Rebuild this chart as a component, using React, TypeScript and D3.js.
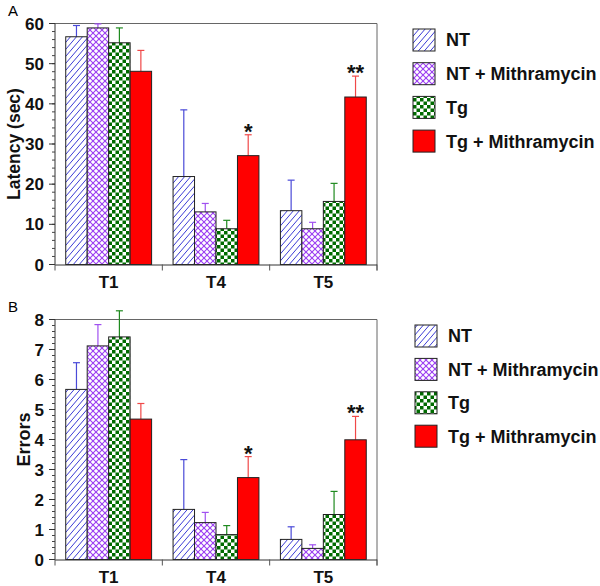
import React from "react";
import * as d3 from "d3";

const categories = ["T1", "T4", "T5"];
const seriesNames = ["NT", "NT + Mithramycin", "Tg", "Tg + Mithramycin"];

// Panel A: Latency (sec)
const latencyNT = [56.7, 21.9, 13.4];
const latencyNTErr = [2.8, 16.6, 7.6];
const latencyNTM = [58.9, 13.1, 8.9];
const latencyNTMErr = [1.0, 2.1, 1.6];
const latencyTg = [55.2, 8.9, 15.7];
const latencyTgErr = [3.7, 2.1, 4.5];
const latencyTgM = [48.1, 27.1, 41.7];
const latencyTgMErr = [5.2, 5.2, 5.2];

// Panel B: Errors
const errorsNT = [5.67, 1.67, 0.67];
const errorsNTErr = [0.89, 1.66, 0.42];
const errorsNTM = [7.12, 1.23, 0.37];
const errorsNTMErr = [0.71, 0.34, 0.12];
const errorsTg = [7.42, 0.83, 1.5];
const errorsTgErr = [0.87, 0.3, 0.77];
const errorsTgM = [4.68, 2.73, 3.99];
const errorsTgMErr = [0.52, 0.7, 0.78];

const significance = ["", "*", "**"]; // for Tg + Mithramycin

const latencyTicks = [0, 10, 20, 30, 40, 50, 60];
const errorsTicks = [0, 1, 2, 3, 4, 5, 6, 7, 8];

const fills = ["url(#patNT)", "url(#patNTM)", "url(#patTg)", "#ff0000"];
const errColors = ["#4a4ad8", "#a050f0", "#1f8a1f", "#f04848"];

const FONT = "Liberation Sans, Arial, sans-serif";

type PanelProps = {
  letter: string;
  label: string;
  labelSize: number;
  labelX: number;
  top: number;
  bottom: number;
  yMax: number;
  ticks: number[];
  minorStep: number;
  values: number[][];
  errs: number[][];
  legendX: number;
  legendY: number;
  legendStep: number;
};

function Panel(p: PanelProps) {
  const left = 55;
  const right = 377;
  const y = d3.scaleLinear().domain([0, p.yMax]).range([p.bottom, p.top]);
  const x0 = d3.scaleBand<string>().domain(categories).range([left, right]).padding(0);
  const x1 = d3
    .scaleBand<string>()
    .domain(seriesNames)
    .range([0, x0.bandwidth()])
    .paddingInner(0)
    .paddingOuter(0.5);
  const minor = d3.range(0, p.yMax + 1e-9, p.minorStep);
  const capW = 7;
  return (
    <g>
      <text x={8} y={p.top - 8} fontFamily={FONT} fontSize={15}>
        {p.letter}
      </text>
      {/* frame */}
      <line x1={left} x2={right} y1={p.top} y2={p.top} stroke="#666" strokeWidth={1} />
      <line x1={right} x2={right} y1={p.top} y2={p.bottom + 6} stroke="#666" strokeWidth={1} />
      {/* bars */}
      {categories.map((c, ci) =>
        seriesNames.map((s, si) => {
          const v = p.values[si][ci];
          const e = p.errs[si][ci];
          const bx = (x0(c) as number) + (x1(s) as number);
          const bw = x1.bandwidth();
          const cx = bx + bw / 2;
          return (
            <g key={c + s}>
              <line x1={cx} x2={cx} y1={y(v)} y2={y(v + e)} stroke={errColors[si]} strokeWidth={1.2} />
              <line
                x1={cx - capW / 2}
                x2={cx + capW / 2}
                y1={y(v + e)}
                y2={y(v + e)}
                stroke={errColors[si]}
                strokeWidth={1.2}
              />
              <rect
                x={bx}
                y={y(v)}
                width={bw}
                height={p.bottom - y(v)}
                fill={fills[si]}
                stroke="#222"
                strokeWidth={1}
              />
              {si === 3 && significance[ci] ? (
                <text
                  x={cx}
                  y={y(v + e) + 4}
                  textAnchor="middle"
                  fontFamily={FONT}
                  fontWeight="bold"
                  fontSize={22}
                  fill="#111"
                >
                  {significance[ci]}
                </text>
              ) : null}
            </g>
          );
        })
      )}
      {/* y axis */}
      <line x1={left} x2={left} y1={p.top} y2={p.bottom} stroke="#333" strokeWidth={1} />
      {minor.map((t, i) => (
        <line key={"m" + i} x1={left - 3} x2={left} y1={y(t)} y2={y(t)} stroke="#444" strokeWidth={1} />
      ))}
      {p.ticks.map((t) => (
        <g key={"t" + t}>
          <line x1={left - 6} x2={left} y1={y(t)} y2={y(t)} stroke="#333" strokeWidth={1} />
          <text
            x={left - 11}
            y={y(t)}
            dy="0.36em"
            textAnchor="end"
            fontFamily={FONT}
            fontWeight="bold"
            fontSize={17}
            fill="#111"
          >
            {t}
          </text>
        </g>
      ))}
      <text
        transform={`translate(${p.labelX},${(p.top + p.bottom) / 2}) rotate(-90)`}
        textAnchor="middle"
        fontFamily={FONT}
        fontWeight="bold"
        fontSize={p.labelSize}
        fill="#111"
      >
        {p.label}
      </text>
      {/* x axis */}
      <line x1={left} x2={right} y1={p.bottom + 0.5} y2={p.bottom + 0.5} stroke="#333" strokeWidth={1} />
      {[...categories.map((c) => x0(c) as number), right].map((bx, i) => (
        <line key={"xt" + i} x1={bx} x2={bx} y1={p.bottom} y2={p.bottom + 6} stroke="#555" strokeWidth={1} />
      ))}
      {categories.map((c) => (
        <text
          key={"xl" + c}
          x={(x0(c) as number) + x0.bandwidth() / 2}
          y={p.bottom + 23.5}
          textAnchor="middle"
          fontFamily={FONT}
          fontWeight="bold"
          fontSize={17}
          fill="#111"
        >
          {c}
        </text>
      ))}
      {/* legend */}
      {seriesNames.map((s, si) => (
        <g key={"lg" + s}>
          <rect
            x={p.legendX}
            y={p.legendY + si * p.legendStep}
            width={22}
            height={22}
            fill={fills[si]}
            stroke="#222"
            strokeWidth={1}
          />
          <text
            x={p.legendX + 33}
            y={p.legendY + si * p.legendStep + 11}
            dy="0.36em"
            fontFamily={FONT}
            fontWeight="bold"
            fontSize={18}
            fill="#111"
          >
            {s}
          </text>
        </g>
      ))}
    </g>
  );
}

export default function App() {
  return (
    <svg width={600} height={586} style={{ position: "absolute", left: 0, top: 0, background: "#fff" }}>
      <defs>
        <pattern id="patNT" patternUnits="userSpaceOnUse" width={6} height={7}>
          <rect width={6} height={7} fill="#fff" />
          <line x1={0} y1={7} x2={6} y2={0} stroke="#3b3bd6" strokeWidth={1} />
          <line x1={-6} y1={7} x2={0} y2={0} stroke="#3b3bd6" strokeWidth={1} />
          <line x1={6} y1={7} x2={12} y2={0} stroke="#3b3bd6" strokeWidth={1} />
        </pattern>
        <pattern id="patNTM" patternUnits="userSpaceOnUse" width={6} height={6}>
          <rect width={6} height={6} fill="#fff" />
          <line x1={0} y1={6} x2={6} y2={0} stroke="#9b3cf2" strokeWidth={1.1} />
          <line x1={0} y1={0} x2={6} y2={6} stroke="#9b3cf2" strokeWidth={1.1} />
        </pattern>
        <pattern id="patTg" patternUnits="userSpaceOnUse" width={7} height={7}>
          <rect width={7} height={7} fill="#fff" />
          <rect x={0} y={0} width={3.5} height={3.5} fill="#006b00" />
          <rect x={3.5} y={3.5} width={3.5} height={3.5} fill="#006b00" />
        </pattern>
      </defs>
      <Panel
        letter="A"
        label="Latency (sec)"
        labelSize={17.5}
        labelX={20}
        top={23.5}
        bottom={264.5}
        yMax={60}
        ticks={latencyTicks}
        minorStep={2}
        values={[latencyNT, latencyNTM, latencyTg, latencyTgM]}
        errs={[latencyNTErr, latencyNTMErr, latencyTgErr, latencyTgMErr]}
        legendX={413}
        legendY={29}
        legendStep={33.7}
      />
      <Panel
        letter="B"
        label="Errors"
        labelSize={18}
        labelX={30}
        top={319.5}
        bottom={559.5}
        yMax={8}
        ticks={errorsTicks}
        minorStep={0.2}
        values={[errorsNT, errorsNTM, errorsTg, errorsTgM]}
        errs={[errorsNTErr, errorsNTMErr, errorsTgErr, errorsTgMErr]}
        legendX={415}
        legendY={325}
        legendStep={33.4}
      />
    </svg>
  );
}
